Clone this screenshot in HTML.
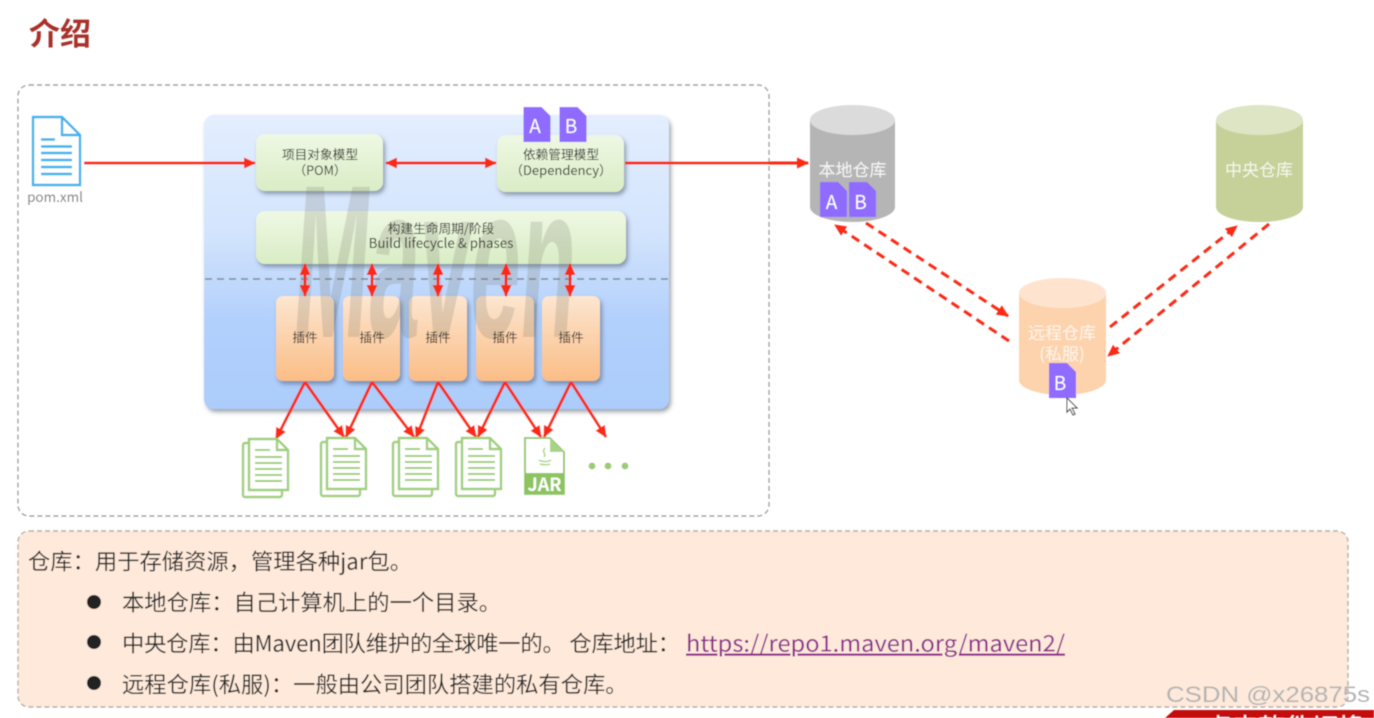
<!DOCTYPE html>
<html><head><meta charset="utf-8"><style>
html,body{margin:0;padding:0;background:#fff;width:1374px;height:718px;overflow:hidden}
svg{display:block}
text{font-family:"Noto Sans CJK SC","Liberation Sans",sans-serif}
</style></head><body>
<svg width="1374" height="718" viewBox="0 0 1374 718" xmlns="http://www.w3.org/2000/svg">
<defs>
<linearGradient id="bl" x1="0" y1="0" x2="0" y2="1"><stop offset="0" stop-color="#e3eefe"/><stop offset=".4" stop-color="#d3e4fd"/><stop offset=".7" stop-color="#b2d0fc"/><stop offset="1" stop-color="#acccfb"/></linearGradient>
<linearGradient id="gr" x1="0" y1="0" x2="0" y2="1"><stop offset="0" stop-color="#eff8e4"/><stop offset="1" stop-color="#d9edc5"/></linearGradient>
<linearGradient id="or" x1="0" y1="0" x2="0" y2="1"><stop offset="0" stop-color="#fde6d0"/><stop offset="1" stop-color="#fbbd86"/></linearGradient>
<filter id="sh" x="-10%" y="-10%" width="120%" height="125%"><feDropShadow dx="2" dy="3" stdDeviation="2" flood-color="#3b4a60" flood-opacity=".5"/></filter>
<filter id="soft"><feGaussianBlur stdDeviation="0.55"/></filter>
<marker id="ah" markerWidth="13" markerHeight="11" refX="11" refY="5.500" orient="auto-start-reverse" markerUnits="userSpaceOnUse"><path d="M0 0L12 5.500L0 11Z" fill="#fb2a14"/></marker>
<g id="doc" fill="none" stroke="#9fcf7c" stroke-width="2.400">
<rect x="0" y="4" width="39" height="54" rx="2" fill="#fff"/>
<path d="M6 0H34L45 11V51H6Z" fill="#fff"/><path d="M34 0V11H45"/>
<path d="M12 11H27M12 18H39M12 24H39M12 30H39M12 36H39M12 42H39" stroke-width="2"/>
</g>
<g id="pa"><path d="M0 0H18L27 9V35H0Z" fill="#8f6cff"/></g>
</defs>
<g filter="url(#soft)">
<text x="29" y="45" font-size="31" font-weight="bold" fill="#a8322a">介绍</text>

<rect x="18" y="85" width="751" height="431" rx="11" fill="#fff" stroke="#a0a0a0" stroke-width="1.400" stroke-dasharray="5 3"/>

<!-- pom icon -->
<path d="M33 117H62L80 135V185H33Z" fill="#fff" stroke="#3cb2ee" stroke-width="2.400"/>
<path d="M62 117V135H80" fill="none" stroke="#3cb2ee" stroke-width="2.400"/>
<path d="M41 139.500H55M41 146.500H72M41 153H72M41 160H72M41 167H72M41 174H72" stroke="#3cb2ee" stroke-width="2.400"/>
<text x="55" y="202" font-size="13.500" fill="#777" text-anchor="middle">pom.xml</text>

<!-- blue panel -->
<rect x="204" y="115" width="465" height="294" rx="10" fill="url(#bl)" filter="url(#sh)"/>
<path d="M205 279H670" stroke="#7d8792" stroke-width="1.500" stroke-dasharray="7 5"/>

<rect x="256" y="134" width="127" height="57" rx="9" fill="url(#gr)" filter="url(#sh)"/>
<rect x="497" y="135" width="127" height="57" rx="9" fill="url(#gr)" filter="url(#sh)"/>
<rect x="256" y="211" width="370" height="53" rx="9" fill="url(#gr)" filter="url(#sh)"/>
<g fill="url(#or)" filter="url(#sh)">
<rect x="276" y="296" width="58" height="85" rx="7"/>
<rect x="343" y="296" width="57" height="85" rx="7"/>
<rect x="409" y="296" width="58" height="85" rx="7"/>
<rect x="476" y="296" width="58" height="85" rx="7"/>
<rect x="542" y="296" width="58" height="85" rx="7"/>
</g>

<!-- Maven watermark -->
<text transform="translate(290 337) scale(1 2.02) skewX(-8)" font-size="108" font-weight="bold" style="font-family:'Liberation Sans',sans-serif" fill="#6e6e5f" fill-opacity=".2" textLength="282" lengthAdjust="spacingAndGlyphs">Maven</text>

<g fill="#2e2e2a" text-anchor="middle" font-size="12.700">
<text x="320" y="159">项目对象模型</text><text x="320" y="175">（POM）</text>
<text x="561" y="159">依赖管理模型</text><text x="561" y="175" font-size="13">（Dependency）</text>
<text x="441" y="233">构建生命周期/阶段</text><text x="441" y="248" font-size="13.300">Build lifecycle &amp; phases</text>
<text x="305" y="342">插件</text><text x="372" y="342">插件</text><text x="438" y="342">插件</text><text x="505" y="342">插件</text><text x="571" y="342">插件</text>
</g>

<use href="#pa" x="523.500" y="107"/><use href="#pa" x="559.500" y="107"/>
<text x="535" y="133" fill="#fff" font-size="19" text-anchor="middle">A</text>
<text x="571" y="133" fill="#fff" font-size="19" text-anchor="middle">B</text>

<!-- solid arrows -->
<g stroke="#fb2a14" stroke-width="2.900" fill="none">
<path d="M84 163H255" marker-end="url(#ah)"/>
<path d="M386 163H496" marker-start="url(#ah)" marker-end="url(#ah)"/>
<path d="M625 163H808" marker-end="url(#ah)"/>
<path d="M305 264V296" marker-start="url(#ah)" marker-end="url(#ah)"/>
<path d="M372 264V296" marker-start="url(#ah)" marker-end="url(#ah)"/>
<path d="M438 264V296" marker-start="url(#ah)" marker-end="url(#ah)"/>
<path d="M506 264V296" marker-start="url(#ah)" marker-end="url(#ah)"/>
<path d="M570 264V296" marker-start="url(#ah)" marker-end="url(#ah)"/>
<path d="M305 382L276 439" marker-end="url(#ah)"/><path d="M305 382L344 437" marker-end="url(#ah)"/>
<path d="M372 382L346 437" marker-end="url(#ah)"/><path d="M372 382L414 437" marker-end="url(#ah)"/>
<path d="M438 382L416 438" marker-end="url(#ah)"/><path d="M438 382L476 437" marker-end="url(#ah)"/>
<path d="M505 382L478 437" marker-end="url(#ah)"/><path d="M505 382L541 437" marker-end="url(#ah)"/>
<path d="M571 382L544 437" marker-end="url(#ah)"/><path d="M571 382L606 437" marker-end="url(#ah)"/>
</g>

<!-- outputs -->
<use href="#doc" x="243" y="439"/><use href="#doc" x="321" y="438"/><use href="#doc" x="393" y="438"/><use href="#doc" x="456" y="438"/>
<path d="M525 438H550L564 452V494H525Z" fill="#fff" stroke="#8dc45e" stroke-width="1.800"/>
<path d="M550 438V452H564Z" fill="#a9d487"/>
<path d="M525 473H564V494H525Z" fill="#8dc45e"/>
<text x="544.500" y="491" font-size="18" font-weight="bold" fill="#fff" text-anchor="middle">JAR</text>
<path d="M545 448c-4 4 2 6-1 9M539 460c3 2 10 2 12 0M540 464c3 1 8 1 10 0" stroke="#a9d487" stroke-width="1.500" fill="none"/>
<g fill="#9bcb73"><circle cx="592" cy="466" r="3.400"/><circle cx="608" cy="466" r="3.400"/><circle cx="625" cy="466" r="3.400"/></g>

<!-- cylinders -->
<path d="M810 120V207A42.500 15 0 0 0 895 207V120Z" fill="#b5b5b5"/>
<ellipse cx="852.500" cy="120" rx="42.500" ry="15" fill="#dbdbdb"/>
<text x="852.500" y="176" fill="#f7f7f7" font-size="17" text-anchor="middle">本地仓库</text>
<use href="#pa" x="820" y="182"/><use href="#pa" x="849" y="182"/>
<text x="831.500" y="209" fill="#fff" font-size="19" text-anchor="middle">A</text>
<text x="860.500" y="209" fill="#fff" font-size="19" text-anchor="middle">B</text>

<path d="M1216 120V207A43.500 15 0 0 0 1303 207V120Z" fill="#c5d199"/>
<ellipse cx="1259.500" cy="120" rx="43.500" ry="15" fill="#dee5c4"/>
<text x="1259" y="176" fill="#f5f7ea" font-size="17" text-anchor="middle">中央仓库</text>

<path d="M1019 293V380A43.500 15 0 0 0 1106 380V293Z" fill="#fdd3ad"/>
<ellipse cx="1062.500" cy="293" rx="43.500" ry="15" fill="#fee4cf"/>
<text x="1062" y="339" fill="#fdf5ec" font-size="17" text-anchor="middle">远程仓库</text>
<text x="1062" y="360" fill="#fdf5ec" font-size="17" text-anchor="middle">(私服)</text>
<use href="#pa" x="1049" y="363"/>
<text x="1060" y="390" fill="#fff" font-size="19" text-anchor="middle">B</text>
<path d="M1067 398V412L1070 409L1073 415L1075 414L1072 408H1077Z" fill="#fff" stroke="#444" stroke-width="1"/>

<!-- dashed arrows -->
<g stroke="#fb2a14" stroke-width="3" fill="none" stroke-dasharray="9 6">
<path d="M866 223L1008 316" marker-end="url(#ah)"/>
<path d="M1009 341L835 225" marker-end="url(#ah)"/>
<path d="M1110 327L1237 226" marker-end="url(#ah)"/>
<path d="M1269 224L1108 356" marker-end="url(#ah)"/>
</g>

<!-- bottom panel -->
<rect x="18" y="531" width="1330" height="176" rx="11" fill="#fee9da" stroke="#b5b0aa" stroke-width="1.400" stroke-dasharray="5 3"/>
<g font-size="22.300" fill="#2c2c2c">
<text x="28" y="569.500">仓库：用于存储资源，管理各种jar包。</text>
<text x="122" y="610.500">本地仓库：自己计算机上的一个目录。</text>
<text x="122" y="651.500" textLength="558" lengthAdjust="spacing">中央仓库：由Maven团队维护的全球唯一的。 仓库地址：</text>
<text x="686" y="651.500" fill="#8b2a8b" text-decoration="underline" textLength="379" lengthAdjust="spacingAndGlyphs">https://repo1.maven.org/maven2/</text>
<text x="122" y="692.500">远程仓库(私服)：一般由公司团队搭建的私有仓库。</text>
</g>
<g fill="#222"><circle cx="94" cy="602" r="7"/><circle cx="94" cy="642" r="7"/><circle cx="94" cy="683" r="7"/></g>

<!-- footer + watermark -->
<path d="M1165 718L1174 710H1374V718Z" fill="#c4100a"/>
<text x="1205" y="731" font-size="19" fill="#fff" textLength="160" lengthAdjust="spacingAndGlyphs">点击软件切换</text>
<text x="1166" y="702" font-size="22" fill="#b4b4b4" style="font-family:'Liberation Sans',sans-serif" textLength="204" lengthAdjust="spacingAndGlyphs">CSDN @x26875s</text>
</g>
</svg>
</body></html>
